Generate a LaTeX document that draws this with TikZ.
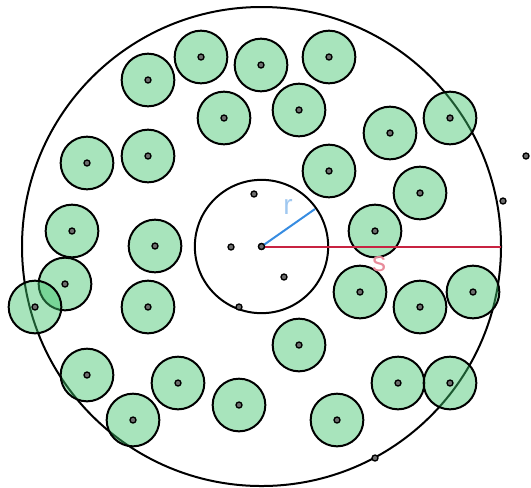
\documentclass[tikz,border=0pt]{standalone}
\usepackage{fontspec}
\setsansfont{Liberation Sans}
\definecolor{discgreen}{RGB}{62,195,106}
\definecolor{rblue}{RGB}{55,140,225}
\definecolor{rlabel}{RGB}{160,200,240}
\definecolor{sred}{RGB}{200,35,65}
\definecolor{slabel}{RGB}{232,140,155}
\definecolor{dotgray}{RGB}{110,110,110}
\begin{document}
\begin{tikzpicture}[x=0.75pt,y=-0.75pt,
  disc/.style={circle,draw=black,line width=1.5pt,fill=discgreen,fill opacity=0.45,draw opacity=1,minimum size=39.5pt,inner sep=0pt},
  pt/.style={circle,draw=black,line width=1pt,fill=dotgray,minimum size=4.5pt,inner sep=0pt},
  ring/.style={circle,draw=black,line width=1.5pt,inner sep=0pt},
  lbl/.style={font=\sffamily\fontsize{21}{21}\selectfont,inner sep=0pt}]
\useasboundingbox (0,0) rectangle (531,487);
\node[ring,minimum size=359.25pt] (outer) at (261.5,246.5) {};
\node[ring,minimum size=100pt] (inner) at (261.5,246.5) {};
% green discs
\foreach \x/\y [count=\i] in {148/80,201/57,261/65,224/118,148/156,87/163,72/231,155/246,
  329/57,299/110,390/133,450/118,329/171,420/193,375/231,
  65/284,35/307,148/307,87/375,133/420,178/383,239/405,
  360/292,420/307,473/292,299/345,398/383,450/383,337/420}{
  \node[disc] (d\i) at (\x,\y) {};
  \node[pt] (c\i) at (\x,\y) {};
}
% radii
\coordinate (rend) at (315,209);
\coordinate (send) at (501,246.5);
\node[pt] (ctr) at (261.5,246.5) {};
\draw[rblue,line width=1.5pt] (ctr.center) -- (rend);
\draw[sred,line width=1.5pt] (ctr.center) -- (send);
\node[pt] (ctr2) at (261.5,246.5) {};
\node[lbl,text=rlabel] (rl) at (288,207) {r};
\node[lbl,text=slabel] (sl) at (379,264.5) {s};
% loose points
\node[pt] (p1) at (254,194) {};
\node[pt] (p2) at (231,247) {};
\node[pt] (p3) at (284,277) {};
\node[pt] (p4) at (239,307) {};
\node[pt] (p5) at (526,156) {};
\node[pt] (p6) at (503,201) {};
\node[pt] (p7) at (375,458) {};
\end{tikzpicture}
\end{document}
